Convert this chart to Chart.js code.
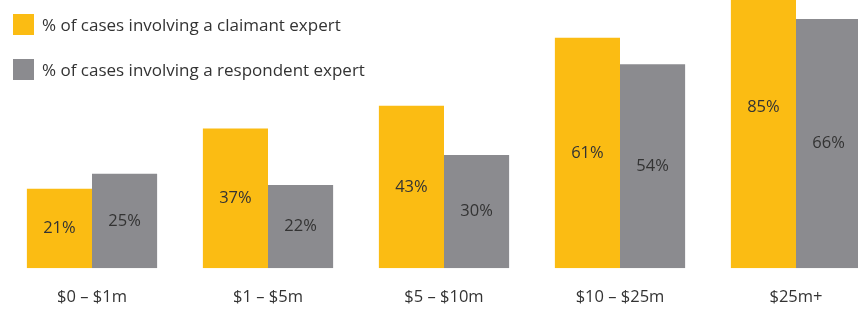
<!DOCTYPE html>
<html>
<head>
<meta charset="utf-8">
<script src="https://cdn.jsdelivr.net/npm/chart.js@4.4.0/dist/chart.umd.min.js"></script>
<style>
  html, body { margin: 0; padding: 0; background: #fff; overflow: hidden; }
  #wrap { position: relative; width: 900px; height: 318px; }
  #legend { position: absolute; left: 13px; top: 14px; font-family: "Open Sans", sans-serif; font-size: 17px; color: #333; }
  #legend .item { display: flex; align-items: center; height: 21px; margin-bottom: 24px; }
  #legend .box { width: 21px; height: 21px; margin-right: 8px; }
</style>
</head>
<body>
<div id="wrap">
  <canvas id="chart"></canvas>
  <div id="legend"></div>
</div>
<script>
const categories = ["$0 – $1m", "$1 – $5m", "$5 – $10m", "$10 – $25m", "$25m+"];
const claimant = [21, 37, 43, 61, 85];
const respondent = [25, 22, 30, 54, 66];
const seriesLabels = ["% of cases involving a claimant expert", "% of cases involving a respondent expert"];
const colors = ["#FBBC13", "#8B8B8F"];

// texto dentro de las barras
const barLabels = {
  id: "barLabels",
  afterDatasetsDraw(chart) {
    const ctx = chart.ctx;
    ctx.save();
    ctx.font = '16.5px "Open Sans", sans-serif';
    ctx.fillStyle = "#333";
    ctx.textAlign = "center";
    ctx.textBaseline = "middle";
    chart.data.datasets.forEach((ds, i) => {
      chart.getDatasetMeta(i).data.forEach((bar, j) => {
        ctx.fillText(ds.data[j] + "%", bar.x, (bar.y + bar.base) / 2);
      });
    });
    ctx.restore();
  },
};

new Chart(document.getElementById("chart"), {
  type: "bar",
  data: {
    labels: categories,
    datasets: [
      { label: seriesLabels[0], data: claimant, backgroundColor: colors[0] },
      { label: seriesLabels[1], data: respondent, backgroundColor: colors[1] },
    ],
  },
  options: {
    responsive: true,
    maintainAspectRatio: false,
    animation: false,
    layout: { padding: { left: 4, right: 16, top: 0, bottom: 0 } },
    datasets: { bar: { barPercentage: 1, categoryPercentage: 0.74 } },
    plugins: { legend: { display: false }, tooltip: { enabled: false } },
    scales: {
      x: {
        grid: { display: false },
        border: { display: false },
        ticks: { padding: 11, color: "#333", font: { family: "Open Sans", size: 16.5, lineHeight: 1.2 } },
      },
      y: { display: false, min: 0, max: 71 },
    },
  },
  plugins: [barLabels],
});

const legend = document.getElementById("legend");
seriesLabels.forEach((txt, i) => {
  legend.innerHTML += `<div class="item"><span class="box" style="background:${colors[i]}"></span>${txt}</div>`;
});
</script>
</body>
</html>
